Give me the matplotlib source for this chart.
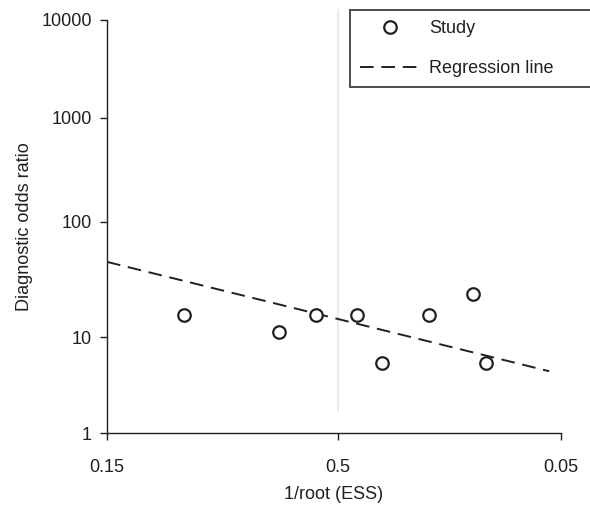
import numpy as np
import matplotlib.pyplot as plt
from matplotlib.lines import Line2D

plt.rcParams['font.family'] = ['Liberation Sans', 'DejaVu Sans']
plt.rcParams['font.size'] = 13

# study points (x is position along the 1/root(ESS) axis)
study_x = [0.170, 0.379, 0.460, 0.551, 0.606, 0.709, 0.806, 0.835]
study_dor = [15.5, 11.0, 15.5, 15.5, 5.4, 15.5, 23.5, 5.4]

# regression line end points
reg_x = [0.0, 0.974]
reg_dor = [45.0, 4.4]

xtick_pos = [0.0, 0.509, 1.0]
xtick_labels = ['0.15', '0.5', '0.05']
yticks = [1, 10, 100, 1000, 10000]

# decades in the original are not evenly spaced
dec_log = [0, 1, 2, 3, 4]
dec_pos = [0, 96, 211, 315, 413]


def fwd(y):
    y = np.clip(np.asarray(y, dtype=float), 1e-3, None)
    return np.interp(np.log10(y), dec_log, dec_pos, left=-100, right=520)


def inv(p):
    return 10 ** np.interp(p, dec_pos, dec_log)


fig = plt.figure(figsize=(5.9, 5.05), dpi=100)
ax = fig.add_axes([107 / 590, 1 - 433 / 505, 454 / 590, 413 / 505])
ax.set_yscale('function', functions=(fwd, inv))

dark = '#231f20'

# light reference line
ax.plot([0.509, 0.509], [0.056, 1.024], color='#e6e6e6', lw=1.2,
        transform=ax.get_xaxis_transform(), clip_on=False, zorder=0)

ax.plot(reg_x, reg_dor, color=dark, lw=1.4, dashes=(7, 4))
ax.plot(study_x, study_dor, 'o', ms=9, mfc='white', mec=dark, mew=1.6,
        linestyle='none')

ax.set_xlim(0, 1)
ax.set_ylim(1, 10000)
ax.set_xticks(xtick_pos)
ax.set_xticklabels(xtick_labels)
ax.set_yticks(yticks)
ax.set_yticklabels([str(v) for v in yticks])
ax.minorticks_off()

for s in ['top', 'right']:
    ax.spines[s].set_visible(False)
for s in ['left', 'bottom']:
    ax.spines[s].set_color(dark)
    ax.spines[s].set_linewidth(1.0)
ax.tick_params(direction='out', length=5, width=1, color=dark,
               labelcolor=dark, pad=6)
ax.tick_params(axis='x', pad=14)

ax.set_xlabel('1/root (ESS)', color=dark, labelpad=7)
ax.set_ylabel('Diagnostic odds ratio', color=dark, labelpad=6)

handles = [
    Line2D([], [], marker='o', ms=9, mfc='white', mec=dark, mew=1.6,
           linestyle='none'),
    Line2D([], [], color=dark, lw=1.4, dashes=(7, 4)),
]
leg = fig.legend(handles, ['Study', 'Regression line'],
                 loc='upper left',
                 bbox_to_anchor=(350 / 590, 1 - 90 / 505, 245 / 590, 80 / 505),
                 mode='expand', frameon=True, fancybox=False,
                 handlelength=3.3, handletextpad=0.55, borderpad=0.55,
                 labelspacing=1.3, borderaxespad=0)
leg.get_frame().set_edgecolor(dark)
leg.get_frame().set_linewidth(1.4)
for t in leg.get_texts():
    t.set_color(dark)

fig.savefig('out.png', dpi=100)
